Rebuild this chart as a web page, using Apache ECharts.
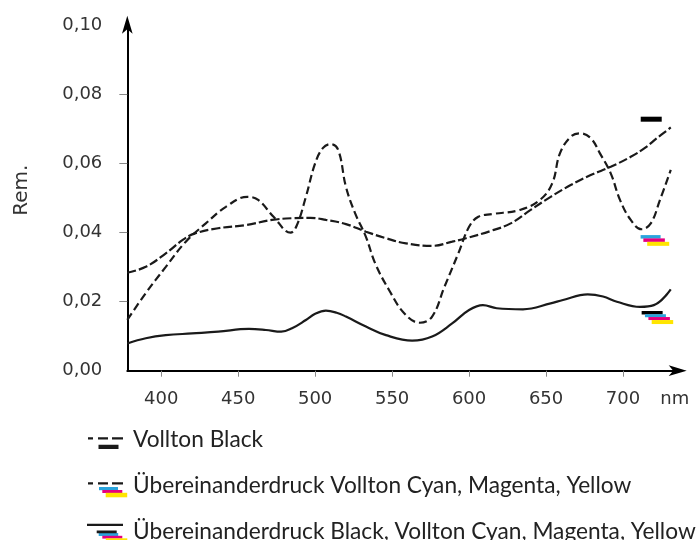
<!DOCTYPE html>
<html>
<head>
<meta charset="utf-8">
<script src="https://cdn.jsdelivr.net/npm/echarts@6/dist/echarts.min.js"></script>
<style>
  html, body { margin: 0; padding: 0; background: #fff; }
  #chart { width: 700px; height: 540px; }
</style>
</head>
<body>
<div id="chart"></div>
<script>
// Remission spectra (wavelength in nm, remission value)
const seriesNames = [
  'Vollton Black',
  'Übereinanderdruck Vollton Cyan, Magenta, Yellow',
  'Übereinanderdruck Black, Vollton Cyan, Magenta, Yellow'
];

const nmBlack = [378, 390, 403, 414, 422, 437, 455, 472, 485, 497, 507, 520, 533, 546, 559, 576, 589, 598, 614, 627, 640, 653, 666, 679, 692, 705, 714, 722, 731];
const remBlack = [0.0284, 0.0301, 0.0340, 0.0379, 0.0398, 0.0413, 0.0422, 0.0437, 0.0442, 0.0443, 0.0437, 0.0425, 0.0403, 0.0384, 0.0369, 0.0362, 0.0374, 0.0384, 0.0405, 0.0427, 0.0466, 0.0504, 0.0538, 0.0567, 0.0591, 0.0620, 0.0645, 0.0674, 0.0705];

const nmCmy = [378, 390, 403, 416, 429, 442, 456, 463, 473, 484, 488, 494, 500, 505, 510, 515, 520, 526, 533, 539, 548, 558, 568, 576, 584, 593, 600, 606, 615, 633, 646, 654, 659, 666, 672, 679, 685, 692, 698, 705, 712, 718, 724, 731];
const remCmy = [0.0147, 0.0225, 0.0301, 0.0374, 0.0427, 0.0475, 0.0504, 0.0495, 0.0446, 0.0400, 0.0420, 0.0504, 0.0601, 0.0645, 0.0657, 0.0640, 0.0533, 0.0456, 0.0388, 0.0311, 0.0234, 0.0166, 0.0139, 0.0157, 0.0243, 0.0340, 0.0417, 0.0446, 0.0454, 0.0466, 0.0495, 0.0543, 0.0630, 0.0678, 0.0688, 0.0674, 0.0630, 0.0572, 0.0495, 0.0437, 0.0410, 0.0427, 0.0495, 0.0582];

const nmKcmy = [378, 390, 403, 420, 437, 457, 468, 478, 485, 494, 500, 507, 514, 520, 533, 546, 563, 576, 589, 600, 609, 618, 635, 653, 661, 677, 687, 696, 711, 720, 731];
const remKcmy = [0.0079, 0.0094, 0.0103, 0.0108, 0.0113, 0.0121, 0.0118, 0.0113, 0.0123, 0.0147, 0.0165, 0.0174, 0.0168, 0.0157, 0.0128, 0.0103, 0.0087, 0.0099, 0.0137, 0.0176, 0.0190, 0.0181, 0.0178, 0.0195, 0.0205, 0.0221, 0.0215, 0.0200, 0.0185, 0.0190, 0.0236];

// Axis ticks
const xTicks = [400, 450, 500, 550, 600, 650, 700];
const yTicks = [0, 0.02, 0.04, 0.06, 0.08, 0.10];
const yTickMarks = [0.02, 0.04, 0.06, 0.08];

// Ink badges next to the curve ends: [nm, remission]
const badgeBlack = [718.3, 0.0729];
const badgeCmy = [717.9, 0.0388];
const badgeKcmy = [718.9, 0.0168];

const INK = '#1a1a1a';
const CYAN = '#2aa4dd';
const MAGENTA = '#e4007f';
const YELLOW = '#ffe500';

const pairs = (xs, ys) => xs.map((x, i) => [x, ys[i]]);

function badge(coord, color, size, offset) {
  return {
    coord: coord,
    symbol: 'rect',
    symbolSize: size,
    symbolOffset: offset,
    itemStyle: { color: color, borderWidth: 0 }
  };
}

// Legend keys: black strokes as icon paths inside a 38 x 18 box
const corner = 'M0 0h0.01v0.01h-0.01z M38 18h-0.01v-0.01h0.01z ';
const iconBlack = 'path://' + corner +
  'M2 6.2h5v2.2h-5z M12 6.2h10v2.2h-10z M26 6.2h11v2.2h-11z M12.5 13.8h20v4.2h-20z';
const iconCmy = 'path://' + corner +
  'M2 5.4h5v2.2h-5z M12 5.4h10v2.2h-10z M26 5.4h11v2.2h-11z';
const iconKcmy = 'path://' + corner +
  'M1 1.1h36v2.2h-36z M10.7 7.9h20v2.7h-20z';

const axisFont = { fontFamily: 'DejaVu Sans', fontSize: 18, color: '#333' };

// Axis line ending in an arrow head that reaches past the last value
function arrowLine(tipOffset) {
  return {
    show: true,
    symbol: ['none', 'arrow'],
    symbolSize: [8, 18],
    symbolOffset: [0, tipOffset],
    lineStyle: { color: '#000', width: 2 }
  };
}

const option = {
  animation: false,
  backgroundColor: '#fff',
  grid: { left: 127.3, right: 22.3, top: 25.7, bottom: 169.3 },
  xAxis: {
    type: 'value',
    min: 378,
    max: 735.5,
    splitLine: { show: false },
    axisLine: arrowLine(9),
    axisTick: { show: true, customValues: xTicks, length: 6, lineStyle: { color: '#888', width: 1 } },
    axisLabel: Object.assign({ customValues: xTicks, margin: 20 }, axisFont),
    name: 'nm',
    nameLocation: 'end',
    nameGap: -3,
    nameTextStyle: Object.assign({ align: 'center', verticalAlign: 'top', padding: [20, 0, 0, 0] }, axisFont)
  },
  yAxis: {
    type: 'value',
    min: 0,
    max: 0.10,
    splitLine: { show: false },
    axisLine: arrowLine(10),
    axisTick: { show: true, customValues: yTickMarks, length: 8, lineStyle: { color: '#888', width: 1 } },
    axisLabel: Object.assign({
      customValues: yTicks,
      margin: 25,
      padding: [5, 0, 0, 0],
      formatter: v => v.toFixed(2).replace('.', ',')
    }, axisFont),
    name: 'Rem.',
    nameLocation: 'middle',
    nameRotate: 90,
    nameGap: 96,
    nameTextStyle: Object.assign({}, axisFont, { fontSize: 20, padding: [0, 0, 0, 16] })
  },
  legend: {
    orient: 'vertical',
    left: 86,
    top: 428.5,
    height: 200,
    padding: 0,
    itemWidth: 38,
    itemHeight: 18,
    itemGap: 22.8,
    selectedMode: false,
    itemStyle: { borderWidth: 0 },
    textStyle: { fontFamily: 'Lato', fontSize: 22.7, color: '#222', padding: [0, 0, 0, 4] },
    data: [
      { name: seriesNames[0], icon: iconBlack },
      { name: seriesNames[1], icon: iconCmy },
      { name: seriesNames[2], icon: iconKcmy }
    ]
  },
  series: [
    {
      name: seriesNames[0],
      type: 'line',
      data: pairs(nmBlack, remBlack),
      smooth: 0.4,
      symbol: 'none',
      color: INK,
      lineStyle: { color: INK, width: 2.2, type: [9, 3] },
      markPoint: {
        silent: true,
        label: { show: false },
        data: [badge(badgeBlack, '#000', [21, 5], [0, 0])]
      }
    },
    {
      name: seriesNames[1],
      type: 'line',
      data: pairs(nmCmy, remCmy),
      smooth: 0.4,
      symbol: 'none',
      color: INK,
      lineStyle: { color: INK, width: 2.2, type: [8, 4] },
      markPoint: {
        silent: true,
        label: { show: false },
        data: [
          badge(badgeCmy, CYAN, [20, 3.5], [0, 0]),
          badge(badgeCmy, MAGENTA, [21.5, 3.5], [3.5, 3.3]),
          badge(badgeCmy, YELLOW, [22, 4], [7.6, 7])
        ]
      }
    },
    {
      name: seriesNames[2],
      type: 'line',
      data: pairs(nmKcmy, remKcmy),
      smooth: 0.4,
      symbol: 'none',
      color: INK,
      lineStyle: { color: INK, width: 2.2 },
      markPoint: {
        silent: true,
        label: { show: false },
        data: [
          badge(badgeKcmy, '#000', [21, 3.5], [0, 0]),
          badge(badgeKcmy, CYAN, [21, 3], [3.3, 3]),
          badge(badgeKcmy, MAGENTA, [21.5, 3], [7, 5.8]),
          badge(badgeKcmy, YELLOW, [21.5, 4], [10.3, 9.3])
        ]
      }
    }
  ],
  // Coloured ink strips under the legend keys
  graphic: [
    { type: 'rect', shape: { x: 99, y: 487, width: 19, height: 3.2 }, style: { fill: CYAN } },
    { type: 'rect', shape: { x: 102.3, y: 490, width: 20, height: 3 }, style: { fill: MAGENTA } },
    { type: 'rect', shape: { x: 105.7, y: 492.8, width: 21.5, height: 4.5 }, style: { fill: YELLOW } },
    { type: 'rect', shape: { x: 98.7, y: 533, width: 19.5, height: 3 }, style: { fill: CYAN } },
    { type: 'rect', shape: { x: 102.3, y: 535.8, width: 20, height: 2.8 }, style: { fill: MAGENTA } },
    { type: 'rect', shape: { x: 105.8, y: 538.3, width: 21.5, height: 3 }, style: { fill: YELLOW } }
  ]
};

const chart = echarts.init(document.getElementById('chart'), null, { renderer: 'canvas' });
chart.setOption(option);
</script>
</body>
</html>
